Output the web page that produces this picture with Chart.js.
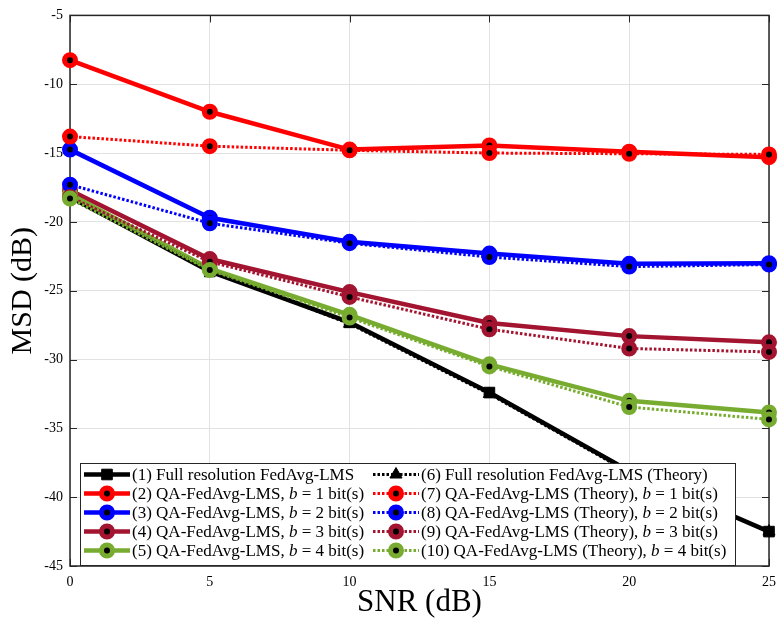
<!DOCTYPE html>
<html>
<head>
<meta charset="utf-8">
<script src="https://cdn.jsdelivr.net/npm/chart.js@4.4.1/dist/chart.umd.min.js"></script>
<style>
  html, body { margin: 0; padding: 0; background: #fff; }
  #wrap { width: 784px; height: 625px; }
</style>
</head>
<body>
<div id="wrap"><canvas id="chart-msd" width="784" height="625"></canvas></div>
<script>
// ── Data (MSD in dB vs SNR in dB) ─────────────────────────────
const snr = [0, 5, 10, 15, 20, 25];
const xTicks = [0, 5, 10, 15, 20, 25];
const yTicks = [-45, -40, -35, -30, -25, -20, -15, -10, -5];

const fullSim    = [-18.2, -23.6, -27.3, -32.4, -38.1, -42.5];
const qa1Sim     = [-8.25, -12.0, -14.75, -14.45, -14.9, -15.3];
const qa2Sim     = [-14.75, -19.7, -21.45, -22.3, -23.05, -23.0];
const qa3Sim     = [-17.7, -22.7, -25.1, -27.35, -28.3, -28.75];
const qa4Sim     = [-18.0, -23.4, -26.75, -30.35, -33.0, -33.85];
const fullTheory = [-18.3, -23.5, -27.4, -32.5, -38.2, -42.5];
const qa1Theory  = [-13.8, -14.5, -14.8, -15.0, -15.05, -15.1];
const qa2Theory  = [-17.3, -20.1, -21.55, -22.55, -23.25, -23.1];
const qa3Theory  = [-18.2, -22.9, -25.45, -27.8, -29.2, -29.45];
const qa4Theory  = [-18.3, -23.5, -26.95, -30.5, -33.45, -34.35];

const labels = [
  '(1) Full resolution FedAvg-LMS',
  '(2) QA-FedAvg-LMS, $b$ = 1 bit(s)',
  '(3) QA-FedAvg-LMS, $b$ = 2 bit(s)',
  '(4) QA-FedAvg-LMS, $b$ = 3 bit(s)',
  '(5) QA-FedAvg-LMS, $b$ = 4 bit(s)',
  '(6) Full resolution FedAvg-LMS (Theory)',
  '(7) QA-FedAvg-LMS (Theory), $b$ = 1 bit(s)',
  '(8) QA-FedAvg-LMS (Theory), $b$ = 2 bit(s)',
  '(9) QA-FedAvg-LMS (Theory), $b$ = 3 bit(s)',
  '(10) QA-FedAvg-LMS (Theory), $b$ = 4 bit(s)',
];

const RED = '#ff0000', BLUE = '#0000ff', WINE = '#a2142f', GREEN = '#77ac30', BLACK = '#000000';
const SERIF = "'Liberation Serif', 'DejaVu Serif', serif";
const AXIS = '#262626';

function xy(vals) { return vals.map((v, i) => ({ x: snr[i], y: v })); }

function simSet(label, vals, color, style) {
  const sq = style === 'rect';
  return {
    label, data: xy(vals),
    borderColor: color, borderWidth: 4.5,
    pointStyle: sq ? 'rect' : 'circle',
    pointRadius: sq ? 7.5 : 5.5,
    pointBackgroundColor: sq ? color : BLACK,
    pointBorderColor: color,
    pointBorderWidth: sq ? 1 : 5,
    clip: false,
  };
}
function theorySet(label, vals, color, style) {
  const tri = style === 'triangle';
  return {
    label, data: xy(vals),
    borderColor: color, borderWidth: 3, borderDash: [2.5, 2],
    pointStyle: tri ? 'triangle' : 'circle',
    pointRadius: tri ? 7 : 5.5,
    pointBackgroundColor: tri ? color : BLACK,
    pointBorderColor: color,
    pointBorderWidth: tri ? 1 : 5,
    clip: false,
  };
}

const datasets = [
  simSet(labels[0], fullSim, BLACK, 'rect'),
  simSet(labels[1], qa1Sim, RED),
  simSet(labels[2], qa2Sim, BLUE),
  simSet(labels[3], qa3Sim, WINE),
  simSet(labels[4], qa4Sim, GREEN),
  theorySet(labels[5], fullTheory, BLACK, 'triangle'),
  theorySet(labels[6], qa1Theory, RED),
  theorySet(labels[7], qa2Theory, BLUE),
  theorySet(labels[8], qa3Theory, WINE),
  theorySet(labels[9], qa4Theory, GREEN),
];
// later series drawn on top, like the original plot order
datasets.forEach((d, i) => { d.order = datasets.length - i; });

// ── Marker helper for the legend ──────────────────────────────
function marker(c, ds, x, y) {
  c.save();
  c.fillStyle = ds.pointBackgroundColor;
  c.strokeStyle = ds.pointBorderColor;
  c.lineWidth = ds.pointBorderWidth;
  const r = ds.pointRadius;
  c.beginPath();
  if (ds.pointStyle === 'rect') {
    const s = Math.SQRT1_2 * r;
    c.rect(x - s, y - s, 2 * s, 2 * s);
  } else if (ds.pointStyle === 'triangle') {
    c.moveTo(x, y - r);
    c.lineTo(x + r * 0.866, y + r * 0.5);
    c.lineTo(x - r * 0.866, y + r * 0.5);
    c.closePath();
  } else {
    c.arc(x, y, r, 0, Math.PI * 2);
  }
  c.fill();
  c.stroke();
  c.restore();
}

// draw text where $b$ becomes italic
function richText(c, str, x, y, size) {
  const parts = str.split('$');
  parts.forEach((p, i) => {
    c.font = (i % 2 ? 'italic ' : '') + size + 'px ' + SERIF;
    c.fillText(p, x, y);
    x += c.measureText(p).width;
  });
}

// ── Plugins: axes box + inward ticks, two-column legend ──────
const boxPlugin = {
  id: 'matlabBox',
  beforeDatasetsDraw(chart) {
    const { ctx: c, chartArea: { left, right, top, bottom }, scales } = chart;
    c.save();
    c.strokeStyle = AXIS;
    c.lineWidth = 1;
    c.beginPath();
    yTicks.forEach((t) => {
      const py = Math.round(scales.y.getPixelForValue(t)) + 0.5;
      c.moveTo(left, py); c.lineTo(left + 7, py);
      c.moveTo(right, py); c.lineTo(right - 7, py);
    });
    xTicks.forEach((t) => {
      const px = Math.round(scales.x.getPixelForValue(t)) + 0.5;
      c.moveTo(px, bottom); c.lineTo(px, bottom - 7);
      c.moveTo(px, top); c.lineTo(px, top + 7);
    });
    c.stroke();
    c.lineWidth = 1.5;
    c.strokeRect(left, top, right - left, bottom - top);
    c.restore();
  },
};

const legendPlugin = {
  id: 'twoColLegend',
  afterDraw(chart) {
    const c = chart.ctx;
    const ds = chart.data.datasets;
    const box = { l: 80, t: 463, r: 735, b: 565 };
    c.save();
    c.fillStyle = '#fff';
    c.fillRect(box.l, box.t, box.r - box.l, box.b - box.t);
    c.strokeStyle = AXIS;
    c.lineWidth = 1;
    c.strokeRect(box.l + 0.5, box.t + 0.5, box.r - box.l, box.b - box.t);
    const cols = [{ x0: 84, x1: 130, tx: 132 }, { x0: 373, x1: 419, tx: 421 }];
    ds.forEach((d, i) => {
      const col = cols[Math.floor(i / 5)];
      const y = 474.5 + (i % 5) * 19;
      c.save();
      c.strokeStyle = d.borderColor;
      c.lineWidth = d.borderWidth;
      c.setLineDash(d.borderDash || []);
      c.beginPath();
      c.moveTo(col.x0, y); c.lineTo(col.x1, y);
      c.stroke();
      c.restore();
      marker(c, d, (col.x0 + col.x1) / 2, y);
      c.fillStyle = '#000';
      c.textBaseline = 'middle';
      richText(c, d.label, col.tx, y + 1, 17);
    });
    c.restore();
  },
};

new Chart(document.getElementById('chart-msd').getContext('2d'), {
  type: 'line',
  data: { datasets },
  options: {
    responsive: false,
    animation: false,
    layout: { padding: { top: 13, right: 5, left: 0, bottom: 0 } },
    plugins: { legend: { display: false }, tooltip: { enabled: false } },
    scales: {
      x: {
        type: 'linear', min: 0, max: 25,
        afterFit: (s) => { s.height = 59; },
        afterBuildTicks: (s) => { s.ticks = xTicks.map((v) => ({ value: v })); },
        grid: { color: '#e2e2e2', drawTicks: false },
        border: { display: false },
        ticks: { color: '#000', padding: 8, font: { family: SERIF, size: 14 } },
        title: { display: true, text: 'SNR (dB)', color: '#000', padding: { top: 1.5 },
                 font: { family: SERIF, size: 31 } },
      },
      y: {
        type: 'linear', min: -45, max: -5,
        afterFit: (s) => { s.width = 70; },
        afterBuildTicks: (s) => { s.ticks = yTicks.map((v) => ({ value: v })); },
        grid: { color: '#e2e2e2', drawTicks: false },
        border: { display: false },
        ticks: { color: '#000', padding: 7, font: { family: SERIF, size: 14 } },
        title: { display: true, text: 'MSD (dB)', color: '#000', padding: { top: 5 },
                 font: { family: SERIF, size: 30 } },
      },
    },
  },
  plugins: [boxPlugin, legendPlugin],
});
</script>
</body>
</html>
